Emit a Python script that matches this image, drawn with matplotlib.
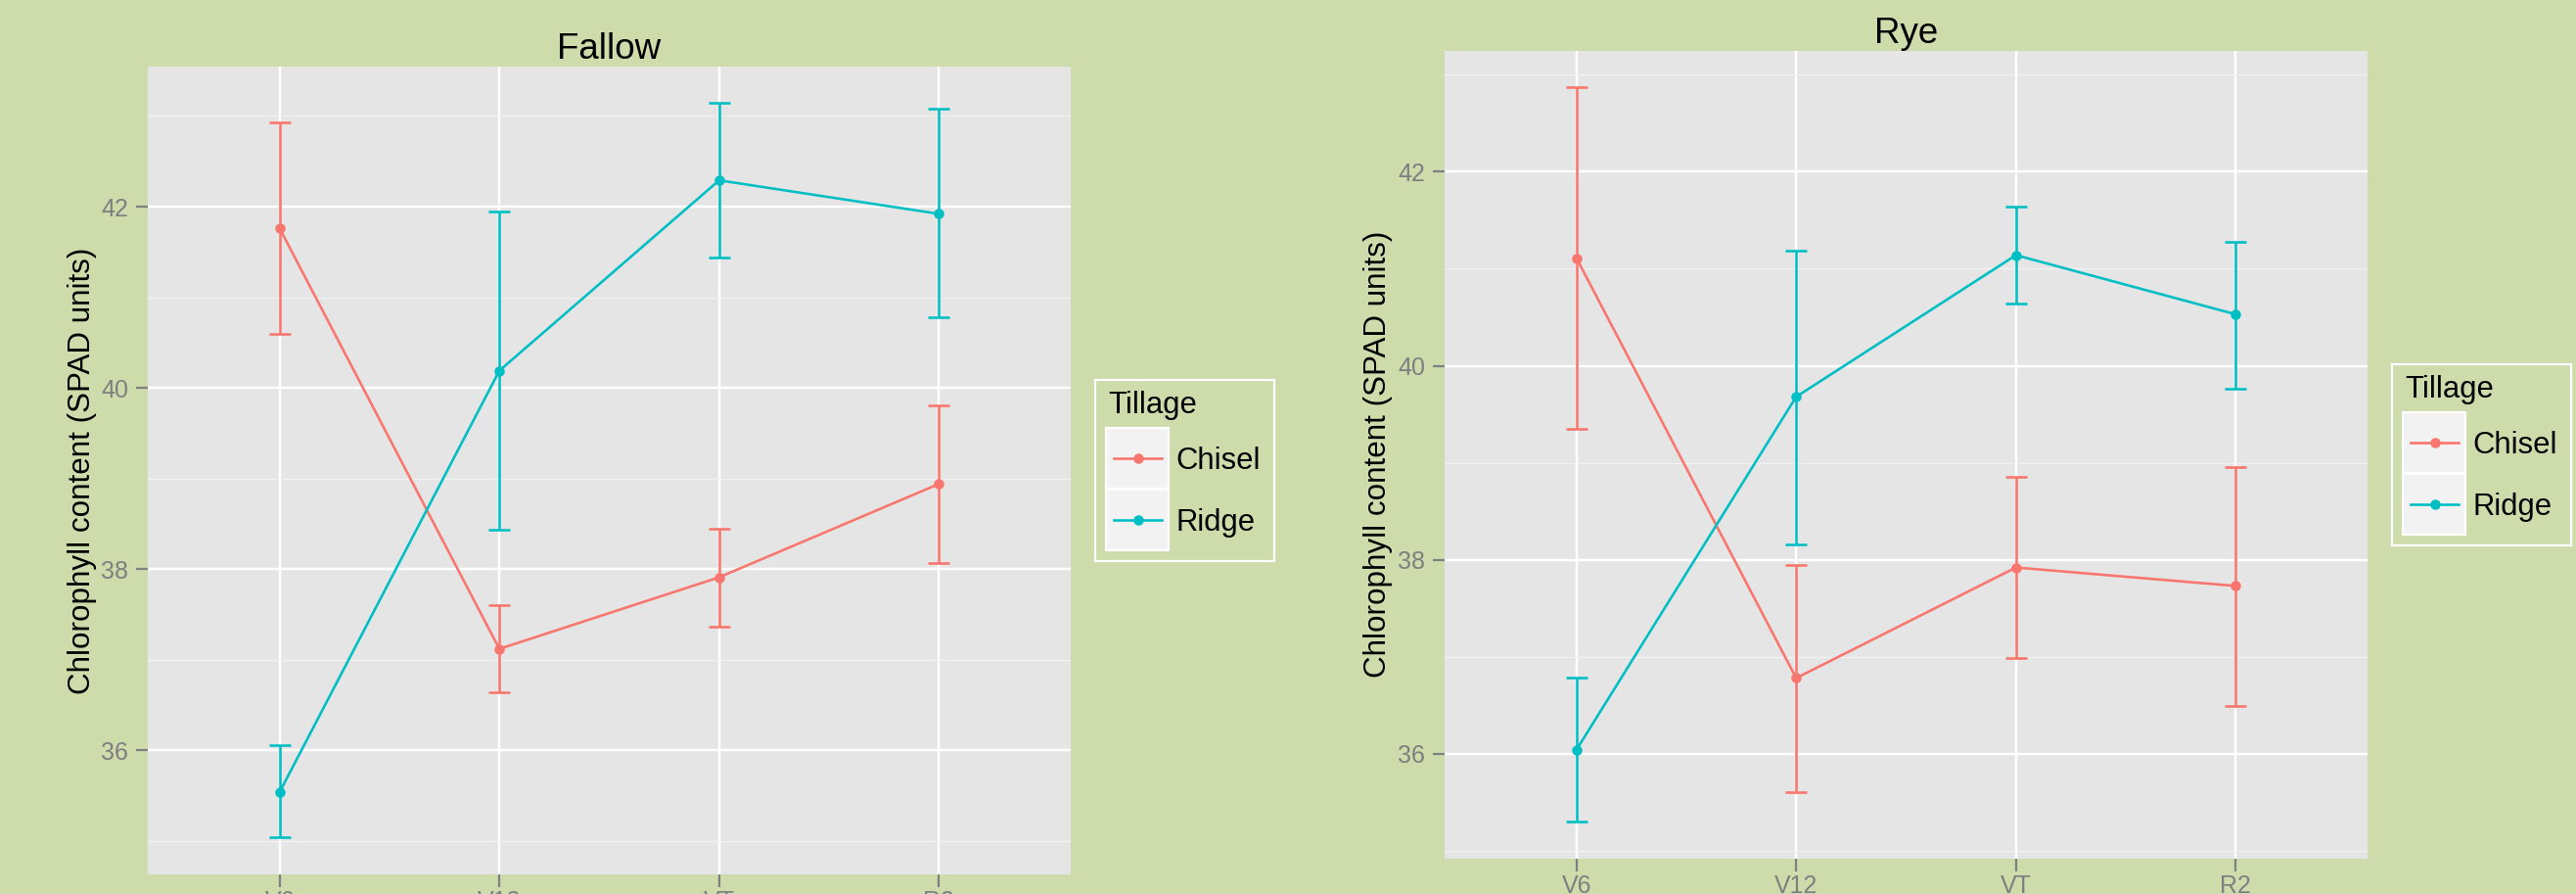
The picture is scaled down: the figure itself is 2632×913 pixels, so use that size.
import matplotlib
matplotlib.use("Agg")
import matplotlib.pyplot as plt
from matplotlib.patches import Rectangle
from matplotlib.lines import Line2D
from matplotlib.ticker import MultipleLocator

# ---- data -------------------------------------------------------------
stages = ["V6", "V12", "VT", "R2"]
tillage = ["Chisel", "Ridge"]

fallow_chisel_mean = [41.76, 37.12, 37.91, 38.94]
fallow_chisel_low = [40.60, 36.64, 37.37, 38.07]
fallow_chisel_high = [42.93, 37.60, 38.45, 39.81]
fallow_ridge_mean = [35.54, 40.19, 42.29, 41.92]
fallow_ridge_low = [35.04, 38.43, 41.44, 40.78]
fallow_ridge_high = [36.06, 41.95, 43.14, 43.08]

rye_chisel_mean = [41.11, 36.78, 37.92, 37.73]
rye_chisel_low = [39.35, 35.60, 36.99, 36.49]
rye_chisel_high = [42.87, 37.95, 38.85, 38.96]
rye_ridge_mean = [36.04, 39.68, 41.14, 40.53]
rye_ridge_low = [35.30, 38.16, 40.64, 39.76]
rye_ridge_high = [36.78, 41.19, 41.64, 41.28]

panels = [
    ("Fallow", {
        "Chisel": (fallow_chisel_mean, fallow_chisel_low, fallow_chisel_high),
        "Ridge": (fallow_ridge_mean, fallow_ridge_low, fallow_ridge_high),
    }),
    ("Rye", {
        "Chisel": (rye_chisel_mean, rye_chisel_low, rye_chisel_high),
        "Ridge": (rye_ridge_mean, rye_ridge_low, rye_ridge_high),
    }),
]

# ---- style ------------------------------------------------------------
W, H, DPI = 2632, 913, 100
PT = 72.0 / DPI  # points per pixel
BG = "#CEDCAC"
PANEL = "#E5E5E5"
KEY_BG = "#F2F2F2"
GREY = "#7F7F7F"
COLORS = {"Chisel": "#F8766D", "Ridge": "#00BFC4"}

plt.rcParams["font.family"] = ["Liberation Sans", "DejaVu Sans"]

fig = plt.figure(figsize=(W / DPI, H / DPI), dpi=DPI, facecolor=BG)


def frac(l, t, r, b):
    return [l / W, 1 - b / H, (r - l) / W, (b - t) / H]


# panel boxes in pixels: left, top, right, bottom
boxes = [(151, 68, 1094, 892.7), (1476, 51.7, 2419, 876.6)]
ylabel_x = [83.8, 1407.8]

for (name, groups), (l, t, r, b), lx in zip(panels, boxes, ylabel_x):
    ax = fig.add_axes(frac(l, t, r, b))
    ax.set_facecolor(PANEL)
    for s in ax.spines.values():
        s.set_visible(False)

    xs = list(range(1, len(stages) + 1))
    lows = [v for g in groups.values() for v in g[1]]
    highs = [v for g in groups.values() for v in g[2]]
    lo, hi = min(lows), max(highs)
    pad = 0.05 * (hi - lo)
    ax.set_ylim(lo - pad, hi + pad)
    ax.set_xlim(0.4, len(stages) + 0.6)

    ax.yaxis.set_major_locator(MultipleLocator(2))
    ax.yaxis.set_minor_locator(MultipleLocator(1))
    ax.set_xticks(xs)
    ax.set_xticklabels(stages)
    ax.grid(which="major", color="white", linewidth=2.5 * PT)
    ax.grid(which="minor", axis="y", color="#F2F2F2", linewidth=1.3 * PT)
    ax.set_axisbelow(True)
    ax.tick_params(which="major", length=12.5 * PT, width=2.2 * PT,
                   color=GREY, labelcolor=GREY, labelsize=18)
    ax.tick_params(axis="y", pad=7.3 * PT)
    ax.tick_params(axis="x", pad=4.0 * PT)
    ax.tick_params(which="minor", length=0)

    for key in tillage:
        mean, low, high = groups[key]
        c = COLORS[key]
        err = [[m - lw for m, lw in zip(mean, low)],
               [hg - m for m, hg in zip(mean, high)]]
        ax.errorbar(xs, mean, yerr=err, fmt="none", ecolor=c,
                    elinewidth=2.6 * PT, capsize=11.3 * PT,
                    capthick=2.6 * PT, zorder=3)
        ax.plot(xs, mean, color=c, linewidth=2.6 * PT, marker="o",
                markersize=10.5 * PT, markeredgewidth=0, zorder=4)

    ax.set_title(name, fontsize=26.5, pad=8 * PT, color="black")
    fig.text(lx / W, 1 - ((t + b) / 2) / H,
             "Chlorophyll content (SPAD units)", rotation=90,
             ha="center", va="center", fontsize=22.6, color="black")

    # legend box
    lw_, lh_ = 183, 185
    ll = r + 25
    lt = (t + b) / 2 - lh_ / 2
    lax = fig.add_axes(frac(ll, lt, ll + lw_, lt + lh_))
    lax.set_xlim(0, lw_)
    lax.set_ylim(lh_, 0)
    lax.set_facecolor(BG)
    lax.set_xticks([])
    lax.set_yticks([])
    for s in lax.spines.values():
        s.set_color("white")
        s.set_linewidth(2.2 * PT)
    lax.text(13.4, 34.4, "Tillage", fontsize=22.3, ha="left",
             va="baseline", color="black")
    key_top = [49.0, 112.0]
    for key, kt in zip(tillage, key_top):
        kh = 62.0
        lax.add_patch(Rectangle((11.4, kt), 63.6, kh, facecolor=KEY_BG,
                                edgecolor="white", linewidth=2.2 * PT))
        cy = kt + kh / 2
        lax.add_line(Line2D([18.7, 68.4], [cy, cy], color=COLORS[key],
                            linewidth=2.6 * PT))
        lax.add_line(Line2D([43.5], [cy], color=COLORS[key], marker="o",
                            markersize=10.5 * PT, markeredgewidth=0))
        lax.text(82.7, cy + 11, key, fontsize=22.3, ha="left",
                 va="baseline", color="black")

fig.savefig("out.png", dpi=DPI, facecolor=BG)
